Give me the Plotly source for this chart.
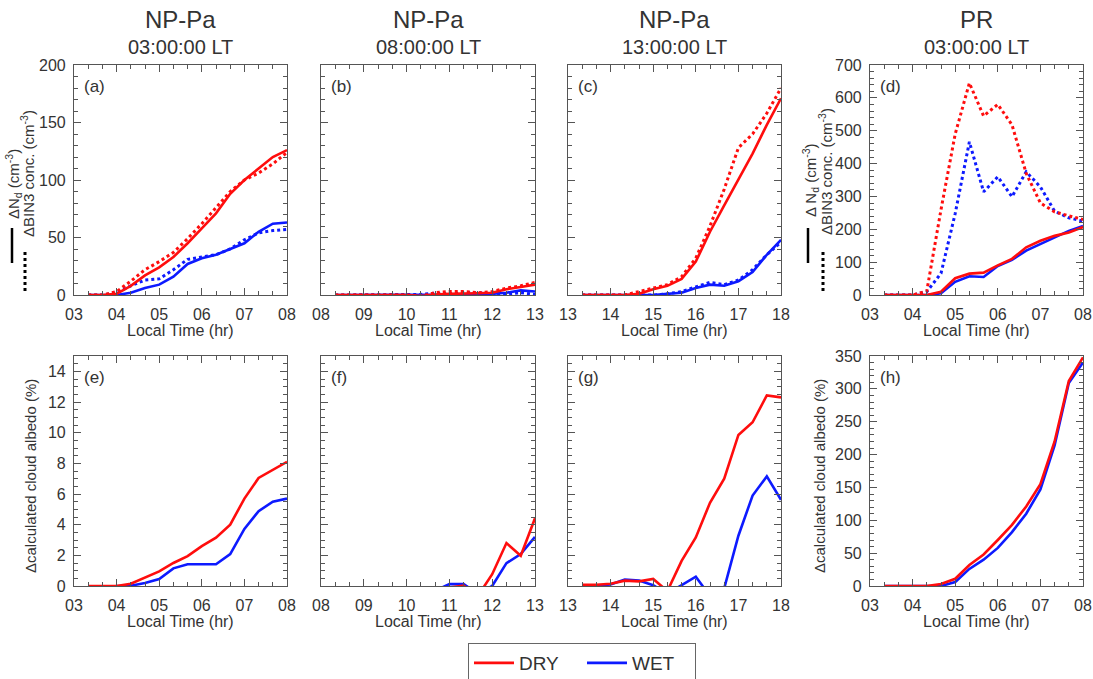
import plotly.graph_objects as go

# ---------------- data ----------------
T_0308 = [3.333, 3.667, 4.0, 4.333, 4.667, 5.0, 5.333, 5.667, 6.0, 6.333, 6.667, 7.0, 7.333, 7.667, 8.0]
T_0813 = [8.333, 8.667, 9.0, 9.333, 9.667, 10.0, 10.333, 10.667, 11.0, 11.333, 11.667, 12.0, 12.333, 12.667, 13.0]
T_1318 = [13.333, 13.667, 14.0, 14.333, 14.667, 15.0, 15.333, 15.667, 16.0, 16.333, 16.667, 17.0, 17.333, 17.667, 18.0]

XT_0308 = [3, 4, 5, 6, 7, 8]
XL_0308 = ["03", "04", "05", "06", "07", "08"]
XT_0813 = [8, 9, 10, 11, 12, 13]
XL_0813 = ["08", "09", "10", "11", "12", "13"]
XT_1318 = [13, 14, 15, 16, 17, 18]
XL_1318 = ["13", "14", "15", "16", "17", "18"]

# (a) NP-Pa 03 LT : dNd (solid) and dBIN3 (dotted)
a_dry_nd = [0, 0, 1, 8, 17, 24, 33, 45, 58, 71, 88, 100, 110, 120, 126]
a_dry_bin = [0, 0, 3, 12, 22, 29, 37, 49, 62, 76, 90, 100, 106, 114, 124]
a_wet_nd = [0, 0, 0, 2, 6, 9, 16, 27, 32, 35, 40, 45, 55, 62, 63]
a_wet_bin = [0, 0, 2, 8, 13, 14, 22, 31, 33, 35, 40, 48, 54, 56, 57]
# (b) NP-Pa 08 LT
b_dry_nd = [0, 0, 0, 0, 0, 0, -1, 0.5, 1, 1, 1.5, 2, 5, 7, 9]
b_dry_bin = [0, 0, 0, 0, 0, 0, -1, 2, 3, 3, 2, 3, 6, 8, 11]
b_wet_nd = [0, 0, 0, 0, 0, 0, 0, 0, 0, 0.5, 1, 1, 2, 4, 3]
b_wet_bin = [0, 0, 0, 0, 0, 0, 0.5, 1.5, 1, 2, 2, 1, 1, 2, 0.5]
# (c) NP-Pa 13 LT
c_dry_nd = [0, 0, 0, 0, 1, 5, 8, 14, 29, 55, 78, 100, 123, 148, 171]
c_dry_bin = [0, 0, 0, 0, 3, 6, 9, 16, 32, 60, 92, 128, 140, 158, 180]
c_wet_nd = [0, 0, 0, 0, 0, 0, 1, 2, 6, 9, 8, 12, 20, 35, 48]
c_wet_bin = [0, 0, 0, 0, 0, 0, 1, 3, 7, 11, 9, 13, 22, 35, 46]
# (d) PR 03 LT
d_dry_nd = [0, 0, 0, 0, 10, 51, 65, 68, 90, 110, 145, 165, 180, 190, 207]
d_dry_bin = [0, 0, 0, 12, 260, 490, 645, 545, 580, 518, 370, 280, 253, 241, 230]
d_wet_nd = [0, 0, 0, 0, 5, 40, 57, 55, 88, 107, 135, 155, 175, 195, 210]
d_wet_bin = [0, 0, 0, 10, 66, 248, 466, 314, 360, 299, 375, 329, 255, 235, 225]
# (e)-(h) delta calculated cloud albedo (%)
e_dry = [0, 0, 0, 0.15, 0.55, 0.95, 1.5, 1.95, 2.6, 3.15, 4.0, 5.7, 7.05, 7.6, 8.1]
e_wet = [-0.2, -0.2, 0, 0.02, 0.2, 0.45, 1.15, 1.42, 1.42, 1.42, 2.08, 3.72, 4.88, 5.5, 5.7]
f_dry = [-0.5, -0.5, -0.5, -0.5, -0.5, -0.5, -0.5, -0.5, -0.1, 0.02, -0.64, 0.77, 2.8, 1.97, 4.42]
f_wet = [-0.5, -0.5, -0.5, -0.5, -0.5, -0.5, -0.5, -0.3, 0.12, 0.12, -0.5, 0.0, 1.49, 2.08, 3.2]
g_dry = [0.08, 0.08, 0.15, 0.35, 0.3, 0.46, -0.33, 1.64, 3.17, 5.43, 7.0, 9.85, 10.68, 12.43, 12.3]
g_wet = [0.0, 0.02, 0.1, 0.42, 0.35, 0.05, -0.5, 0.07, 0.61, -0.66, -0.15, 3.28, 5.9, 7.15, 5.62]
h_dry = [0, 0, 0, 0, 3, 11, 32, 48, 70, 93, 121, 155, 220, 312, 348]
h_wet = [0, 0, 0, 0, 0, 6, 26, 40, 58, 82, 110, 147, 214, 309, 340]

TITLES_SITE = ["NP-Pa", "NP-Pa", "NP-Pa", "PR"]
TITLES_TIME = ["03:00:00 LT", "08:00:00 LT", "13:00:00 LT", "03:00:00 LT"]
PANEL_LABELS = ["(a)", "(b)", "(c)", "(d)", "(e)", "(f)", "(g)", "(h)"]

# ---------------- styling ----------------
W, H = 1093, 679
FONT = "Liberation Sans"
TXT = "#333333"
AXC = "#555555"
RED = "#ff0d0d"
BLUE = "#0d1aff"
LW = 2.6

COLS = [(74, 287), (321, 535), (568, 781), (870, 1083)]
ROWS = [(65, 295), (356, 586)]


def px_x(p):
    return p / W


def px_y(p):
    return 1 - p / H


fig = go.Figure()

panels = [
    # (row, col, time, ticks, ticklabels, yrange, ydtick, yminor, showylabels, series)
    (0, 0, T_0308, XT_0308, XL_0308, [0, 200], 50, 10, True,
     [(a_wet_nd, BLUE, "solid"), (a_wet_bin, BLUE, "dot"), (a_dry_nd, RED, "solid"), (a_dry_bin, RED, "dot")]),
    (0, 1, T_0813, XT_0813, XL_0813, [0, 200], 50, 10, False,
     [(b_wet_nd, BLUE, "solid"), (b_wet_bin, BLUE, "dot"), (b_dry_nd, RED, "solid"), (b_dry_bin, RED, "dot")]),
    (0, 2, T_1318, XT_1318, XL_1318, [0, 200], 50, 10, False,
     [(c_wet_nd, BLUE, "solid"), (c_wet_bin, BLUE, "dot"), (c_dry_nd, RED, "solid"), (c_dry_bin, RED, "dot")]),
    (0, 3, T_0308, XT_0308, XL_0308, [0, 700], 100, 20, True,
     [(d_wet_nd, BLUE, "solid"), (d_wet_bin, BLUE, "dot"), (d_dry_nd, RED, "solid"), (d_dry_bin, RED, "dot")]),
    (1, 0, T_0308, XT_0308, XL_0308, [0, 15], 2, 0.5, True,
     [(e_wet, BLUE, "solid"), (e_dry, RED, "solid")]),
    (1, 1, T_0813, XT_0813, XL_0813, [0, 15], 2, 0.5, False,
     [(f_wet, BLUE, "solid"), (f_dry, RED, "solid")]),
    (1, 2, T_1318, XT_1318, XL_1318, [0, 15], 2, 0.5, False,
     [(g_wet, BLUE, "solid"), (g_dry, RED, "solid")]),
    (1, 3, T_0308, XT_0308, XL_0308, [0, 350], 50, 10, True,
     [(h_wet, BLUE, "solid"), (h_dry, RED, "solid")]),
]

layout_axes = {}
annotations = []
shown = set()
for i, (r, c, t, xt, xl, yr, ydt, ymin, ylab, series) in enumerate(panels):
    k = i + 1
    xname = "x" if k == 1 else f"x{k}"
    yname = "y" if k == 1 else f"y{k}"
    for vals, col, dash in series:
        name = "DRY" if col == RED else "WET"
        show = dash == "solid" and name not in shown
        if show:
            shown.add(name)
        fig.add_trace(go.Scatter(
            x=t, y=vals, mode="lines", name=name,
            line=dict(color=col, width=LW if dash == "solid" else 3, dash=dash),
            xaxis=xname, yaxis=yname, showlegend=show,
            legendrank=1 if name == "DRY" else 2,
        ))
    x0, x1 = COLS[c]
    y0, y1 = ROWS[r]
    common = dict(
        showline=True, linecolor=AXC, linewidth=1.2, mirror="allticks",
        ticks="inside", ticklen=7, tickcolor=AXC, tickwidth=1,
        showgrid=False, zeroline=False, automargin=False,
        tickfont=dict(family=FONT, size=16, color=TXT),
        minor=dict(ticks="inside", ticklen=4, tickcolor=AXC, showgrid=False),
    )
    xa = dict(common)
    xa.update(domain=[px_x(x0), px_x(x1)], range=[xt[0], xt[-1]],
              tickmode="array", tickvals=xt, ticktext=xl,
              anchor=yname, ticklabelstandoff=5)
    xa["minor"] = dict(common["minor"], tickmode="linear", tick0=xt[0], dtick=1 / 3)
    ya = dict(common)
    ya.update(domain=[px_y(y1), px_y(y0)], range=yr, tickmode="linear",
              tick0=0, dtick=ydt, anchor=xname, showticklabels=ylab,
              ticklabelstandoff=4)
    ya["minor"] = dict(common["minor"], tickmode="linear", tick0=0, dtick=ymin)
    layout_axes["xaxis" if k == 1 else f"xaxis{k}"] = xa
    layout_axes["yaxis" if k == 1 else f"yaxis{k}"] = ya

    # panel label
    annotations.append(dict(
        x=px_x(x0 + 8), y=px_y(y0 + 21), xref="paper", yref="paper",
        text=PANEL_LABELS[i], showarrow=False, xanchor="left", yanchor="middle",
        font=dict(family=FONT, size=17, color=TXT)))
    # x axis title
    annotations.append(dict(
        x=px_x((x0 + x1) / 2), y=px_y(y1 + 35), xref="paper", yref="paper",
        text="Local Time (hr)", showarrow=False, xanchor="center", yanchor="middle",
        font=dict(family=FONT, size=16, color=TXT)))

# column titles
for c in range(4):
    x0, x1 = COLS[c]
    annotations.append(dict(
        x=px_x((x0 + x1) / 2), y=px_y(19), xref="paper", yref="paper",
        text=TITLES_SITE[c], showarrow=False, xanchor="center", yanchor="middle",
        font=dict(family=FONT, size=24, color=TXT)))
    annotations.append(dict(
        x=px_x((x0 + x1) / 2), y=px_y(47), xref="paper", yref="paper",
        text=TITLES_TIME[c], showarrow=False, xanchor="center", yanchor="middle",
        font=dict(family=FONT, size=20, color=TXT)))

# y-axis labels, top row (with line-style keys)
shapes = []
for (lx1, ly1, lx2, ly2, sx1, sx2, nd_text) in [
    (14, 184, 28, 174, 12, 25, "ΔN<sub>d</sub> (cm<sup>-3</sup>)"),
    (811, 180, 825, 172, 808, 823, "Δ N<sub>d</sub> (cm<sup>-3</sup>)"),
]:
    annotations.append(dict(
        x=px_x(lx1), y=px_y(ly1), xref="paper", yref="paper", text=nd_text,
        textangle=-90, showarrow=False, xanchor="center", yanchor="middle",
        font=dict(family=FONT, size=15, color=TXT)))
    annotations.append(dict(
        x=px_x(lx2), y=px_y(ly2), xref="paper", yref="paper",
        text="ΔBIN3 conc. (cm<sup>-3</sup>)",
        textangle=-90, showarrow=False, xanchor="center", yanchor="middle",
        font=dict(family=FONT, size=15, color=TXT)))
    shapes.append(dict(type="line", xref="paper", yref="paper",
                       x0=px_x(sx1), x1=px_x(sx1), y0=px_y(228), y1=px_y(263),
                       line=dict(color="black", width=2.5)))
    shapes.append(dict(type="line", xref="paper", yref="paper",
                       x0=px_x(sx2), x1=px_x(sx2), y0=px_y(252), y1=px_y(294),
                       line=dict(color="black", width=3, dash="dot")))

# y-axis labels, bottom row
for lx in [31, 820]:
    annotations.append(dict(
        x=px_x(lx), y=px_y(476), xref="paper", yref="paper",
        text="Δcalculated cloud albedo (%)", textangle=-90, showarrow=False,
        xanchor="center", yanchor="middle",
        font=dict(family=FONT, size=15, color=TXT)))

fig.update_layout(
    width=W, height=H,
    margin=dict(l=0, r=0, t=0, b=0, autoexpand=False),
    paper_bgcolor="white", plot_bgcolor="white",
    annotations=annotations, shapes=shapes,
    showlegend=True,
    legend=dict(
        orientation="h", x=px_x(582), xanchor="center", y=px_y(643), yanchor="top",
        bordercolor="#666666", borderwidth=1, bgcolor="white",
        font=dict(family=FONT, size=19, color=TXT),
        itemwidth=40, entrywidth=58,
    ),
    **layout_axes,
)

fig.write_html(
    "out.html",
    config={"displayModeBar": False},
    post_script="document.body.style.margin='0px';document.body.style.overflow='hidden';",
)
